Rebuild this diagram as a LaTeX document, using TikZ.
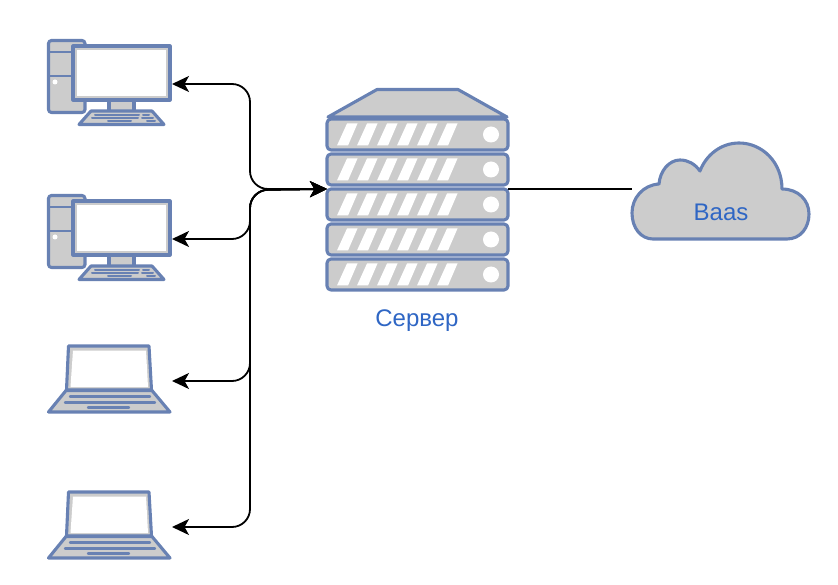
\documentclass[tikz,border=0pt]{standalone}
\usepackage{fontspec}
\setmainfont{Liberation Sans}
\usetikzlibrary{arrows.meta}
\definecolor{icon}{HTML}{6881B3}
\definecolor{gr}{HTML}{CCCCCC}
\definecolor{lab}{HTML}{2F66C4}
\tikzset{
  shapeline/.style={draw=icon,fill=gr,line width=3.1pt,line join=round},
  slot/.style={draw=icon,line width=2.2pt,line cap=round},
  iconbox/.style={inner sep=0pt,outer sep=0pt,minimum width=#1},
  conn/.style={draw=black,line width=1.8pt,rounded corners=18pt,{Stealth[length=17pt,width=16pt,inset=4.5pt]}-{Stealth[length=17pt,width=16pt,inset=4.5pt]}},
  plainconn/.style={draw=black,line width=1.6pt},
  lbl/.style={text=lab,font=\fontsize{24}{28}\selectfont,inner sep=0pt},
  computer/.pic={
    \draw[shapeline,rounded corners=3pt] (48.5,40.5) rectangle (85,112.5);
    \draw[shapeline,line width=2.6pt] (48,52) -- (85,52) (48,76) -- (85,76);
    \fill[white] (55,82) circle (2.5);
    \draw[shapeline] (109,99) rectangle (134,112);
    \draw[shapeline] (73,46) rectangle (170,100);
    \fill[white] (77,50) rectangle (166,96);
    \draw[shapeline] (91,111) -- (152,111) -- (164,124.5) -- (79,124.5) -- cycle;
    \draw[slot,line width=2pt] (95,115) -- (139,115) (143,115) -- (149,115)
      (92,118.5) -- (138,118.5) (142,118.5) -- (153,118.5)
      (108,121.5) -- (131,121.5) (147,121.5) -- (155,121.5);
  },
  laptop/.pic={
    \draw[shapeline] (66.5,390) -- (68.5,346) -- (149,346) -- (151.5,390) -- cycle;
    \fill[white] (70.5,387) -- (73,350.5) -- (146,350.5) -- (148,387) -- cycle;
    \draw[shapeline] (66,390.5) -- (152,390.5) -- (170,412) -- (48.5,412) -- cycle;
    \draw[slot,line width=2.4pt] (70,396.5) -- (150,396.5) (65,402.5) -- (155,402.5) (88,407.5) -- (129,407.5);
  },
  serverrow/.pic={
    \draw[shapeline,rounded corners=4pt] (327,119) rectangle (508,150);
    \foreach \i in {0,...,5}
      \fill[white] ({337+20*\i},145.5) -- ({347+20*\i},123.5) -- ({357.5+20*\i},123.5) -- ({348+20*\i},145.5) -- cycle;
    \fill[white] (491,134.5) circle (8);
  }
}
\begin{document}
\begin{tikzpicture}[x=1pt,y=-1pt]
\useasboundingbox (0,0) rectangle (838,585);
% icons
\pic at (0,0) {computer};
\pic at (0,155) {computer};
\pic at (0,0) {laptop};
\pic at (0,146) {laptop};
\draw[shapeline] (377,89.5) -- (458,89.5) -- (507,117) -- (328,117) -- cycle;
\foreach \d in {0,35,70,105,140} \pic at (0,\d) {serverrow};
\draw[shapeline] (653,239) -- (787,239)
  .. controls (801,239) and (809,227) .. (809,214)
  .. controls (809,200) and (798,189) .. (782,189)
  .. controls (782,162) and (762,143) .. (739,143)
  .. controls (721,143) and (706,155) .. (700,171)
  .. controls (695,164) and (688,160) .. (680,160)
  .. controls (669,160) and (660,171) .. (659,184)
  .. controls (643,185) and (632,198) .. (632,213)
  .. controls (632,228) and (641,239) .. (653,239) -- cycle;
% named anchors
\node[iconbox=124pt,minimum height=88pt] (pc1) at (110,84) {};
\node[iconbox=124pt,minimum height=88pt] (pc2) at (110,239) {};
\node[iconbox=124pt,minimum height=70pt] (lap1) at (110,381) {};
\node[iconbox=124pt,minimum height=70pt] (lap2) at (110,527) {};
\node[iconbox=181pt,minimum height=202pt] (srv) at (417.5,189) {};
\node[iconbox=179pt,minimum height=100pt] (cloud) at (721,189) {};
\coordinate (bus) at (250,189);
\coordinate (buslow) at (250,190);
% connectors
\draw[conn] (pc1.east) -| (bus) -- (srv.west);
\draw[conn] (pc2.east) -| (buslow) -- (srv.west);
\draw[conn] (lap1.east) -| (buslow) -- (srv.west);
\draw[conn] (lap2.east) -| (buslow) -- (srv.west);
\draw[plainconn] (srv.east) -- (cloud.west);
% labels
\node[lbl] (srvlabel) at (417,320.5) {Сервер};
\node[lbl] (cloudlabel) at (721,212) {Baas};
\end{tikzpicture}
\end{document}
